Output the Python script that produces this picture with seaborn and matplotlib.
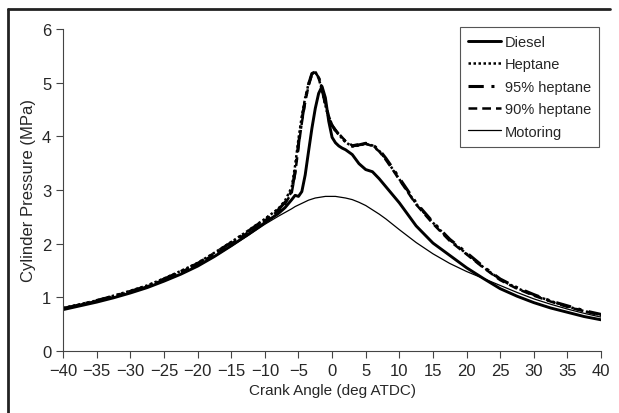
import matplotlib
matplotlib.use("Agg")
import matplotlib.pyplot as plt
import seaborn as sns
from matplotlib.lines import Line2D

# Data
crank = [-40, -37.5, -35, -32.5, -30, -27.5, -25, -22.5, -20, -17.5, -15, -12.5, -10,
         -8, -7, -6,
         -5.5, -5, -4.5, -4, -3.5, -3, -2.5, -2, -1.5, -1, -0.5, 0, 0.5, 1, 1.5, 2,
         3, 4, 5, 6, 7, 8, 9, 10,
         12.5, 15, 17.5, 20, 22.5, 25, 27.5, 30, 32.5, 35, 37.5, 40]

diesel = [0.77, 0.84, 0.91, 0.99, 1.08, 1.18, 1.30, 1.43, 1.58, 1.76, 1.96, 2.17, 2.39,
          2.56, 2.67, 2.82,
          2.90, 2.88, 2.97, 3.28, 3.72, 4.15, 4.52, 4.80, 4.93, 4.72, 4.28, 3.98, 3.88, 3.82, 3.78, 3.75,
          3.66, 3.49, 3.38, 3.34, 3.21, 3.06, 2.91, 2.76,
          2.33, 2.01, 1.78, 1.55, 1.35, 1.16, 1.02, 0.90, 0.80, 0.72, 0.64, 0.58]

heptane = [0.80, 0.87, 0.94, 1.03, 1.12, 1.22, 1.35, 1.49, 1.64, 1.83, 2.03, 2.24, 2.46,
           2.65, 2.80, 3.05,
           3.45, 3.95, 4.38, 4.72, 4.98, 5.16, 5.21, 5.08, 4.86, 4.58, 4.34, 4.19, 4.10, 4.03, 3.96, 3.89,
           3.81, 3.83, 3.86, 3.83, 3.73, 3.57, 3.39, 3.20,
           2.74, 2.39, 2.07, 1.81, 1.56, 1.33, 1.17, 1.04, 0.93, 0.83, 0.74, 0.67]

heptane95 = [0.79, 0.86, 0.94, 1.02, 1.11, 1.21, 1.34, 1.48, 1.63, 1.82, 2.02, 2.23, 2.45,
             2.63, 2.77, 2.98,
             3.35, 3.85, 4.30, 4.68, 4.97, 5.17, 5.20, 5.10, 4.88, 4.60, 4.36, 4.20, 4.11, 4.04, 3.97, 3.90,
             3.82, 3.84, 3.87, 3.84, 3.75, 3.59, 3.41, 3.22,
             2.76, 2.40, 2.08, 1.83, 1.57, 1.34, 1.18, 1.05, 0.93, 0.84, 0.75, 0.68]

heptane90 = [0.79, 0.86, 0.93, 1.01, 1.10, 1.20, 1.33, 1.47, 1.62, 1.80, 2.00, 2.21, 2.43,
             2.61, 2.74, 2.95,
             3.30, 3.80, 4.25, 4.64, 4.94, 5.15, 5.19, 5.10, 4.90, 4.62, 4.38, 4.21, 4.12, 4.05, 3.98, 3.91,
             3.83, 3.85, 3.86, 3.82, 3.72, 3.56, 3.38, 3.19,
             2.73, 2.37, 2.05, 1.80, 1.55, 1.32, 1.16, 1.03, 0.92, 0.82, 0.74, 0.66]

motoring = [0.78, 0.85, 0.92, 1.00, 1.09, 1.19, 1.30, 1.43, 1.58, 1.76, 1.95, 2.15, 2.36,
            2.51, 2.58, 2.65,
            2.69, 2.72, 2.75, 2.78, 2.81, 2.83, 2.85, 2.86, 2.87, 2.88, 2.88, 2.88, 2.88, 2.87, 2.86, 2.85,
            2.82, 2.77, 2.71, 2.63, 2.55, 2.46, 2.36, 2.26,
            2.02, 1.81, 1.63, 1.48, 1.35, 1.22, 1.09, 0.97, 0.87, 0.78, 0.70, 0.63]

xticks = list(range(-40, 41, 5))
yticks = list(range(0, 7))

sns.set_style("white")
plt.rcParams['font.family'] = ['Liberation Sans', 'DejaVu Sans']

fig = plt.figure(figsize=(6.19, 4.14), dpi=100)
ax = fig.add_axes([0.102, 0.150, 0.869, 0.7775])

sns.lineplot(x=crank, y=diesel, ax=ax, color='black', linewidth=2.1, label='Diesel')
sns.lineplot(x=crank, y=heptane, ax=ax, color='black', linewidth=1.8,
             linestyle=(0, (1, 1)), label='Heptane')
sns.lineplot(x=crank, y=heptane95, ax=ax, color='black', linewidth=2.2,
             linestyle=(0, (5, 2.5, 1, 2.5)), label='95% heptane')
sns.lineplot(x=crank, y=heptane90, ax=ax, color='black', linewidth=1.8,
             linestyle=(0, (3.5, 2)), label='90% heptane')
sns.lineplot(x=crank, y=motoring, ax=ax, color='black', linewidth=0.9, label='Motoring')

ax.set_xlim(-40, 40)
ax.set_ylim(0, 6)
ax.set_xticks(xticks)
ax.set_yticks(yticks)
ax.tick_params(axis='both', labelsize=12, length=5, width=0.8, color='#444444',
               direction='out', bottom=True, left=True)
ax.set_xlabel('Crank Angle (deg ATDC)', fontsize=11)
ax.set_ylabel('Cylinder Pressure (MPa)', fontsize=12)

for side in ['top', 'right']:
    ax.spines[side].set_visible(False)
for side in ['left', 'bottom']:
    ax.spines[side].set_color('#444444')
    ax.spines[side].set_linewidth(0.8)

leg = ax.legend(loc='upper right', bbox_to_anchor=(0.968, 0.933),
                bbox_transform=fig.transFigure, fontsize=10.5, frameon=True,
                fancybox=False, edgecolor='#555555', framealpha=1,
                handlelength=2.2, handletextpad=0.3, labelspacing=0.58,
                borderpad=0.55, borderaxespad=0)
leg.get_frame().set_linewidth(0.8)

# Outer frame: left and top edges only
fig.add_artist(Line2D([0.013, 0.013], [0.0, 0.976], color='#222222', linewidth=2.0,
                      transform=fig.transFigure))
fig.add_artist(Line2D([0.013, 0.985], [0.976, 0.976], color='#222222', linewidth=2.0,
                      transform=fig.transFigure))

fig.savefig("out.png", dpi=100)
